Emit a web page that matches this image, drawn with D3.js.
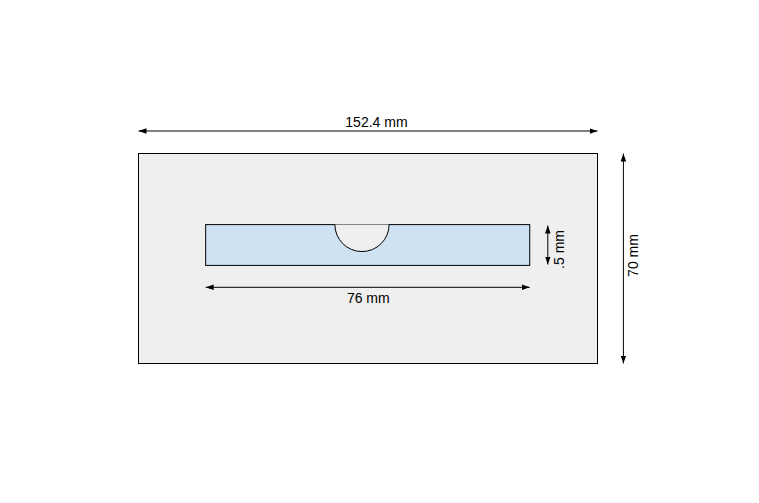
<!DOCTYPE html>
<html lang="en">
<head>
    <meta charset="UTF-8">
    <title>Slot drawing</title>
    <style>
        body { margin: 0; background: #fff; }
        svg { display: block; }
        .dim-line { stroke: #000; stroke-width: 1px; fill: none; }
        .dim-text { font: 14px "Liberation Sans", Arial, sans-serif; fill: #000; }
    </style>
</head>
<body>
    <svg id="chart" width="759" height="503"></svg>
    <script src="https://d3js.org/d3.v7.min.js"></script>
    <script>
        // Plate and cut-out, in mm (drawing is schematic, not to scale)
        const plate = {x0: 0, y0: 0, x1: 152.4, y1: 70};
        const slot = {x0: 22.3, y0: 23.7, x1: 129.9, y1: 37.3};
        const notch = {cx: 74.2, cy: 23.7, r: 9};

        // Dimension arrows: [from, to] along one axis, at fixed position on the other
        const dimensions = [
            {label: "152.4 mm", dir: "h", a: 0, b: 152.4, at: -7.5, lx: 79, ly: -10.6, rot: 0},
            {label: "76 mm", dir: "h", a: 22.3, b: 129.9, at: 44.6, lx: 76.3, ly: 48.2, rot: 0},
            {label: ".5 mm", dir: "v", a: 24.0, b: 37.0, at: 135.9, lx: 139.6, ly: 32, rot: -90},
            {label: "70 mm", dir: "v", a: 0, b: 70, at: 161.0, lx: 164.1, ly: 34, rot: -90}
        ];

        const svg = d3.select("#chart");
        const x = d3.scaleLinear().domain([0, 152.4]).range([138.5, 597.5]);
        const y = d3.scaleLinear().domain([0, 70]).range([153.5, 363.5]);

        svg.append("defs").append("marker")
            .attr("id", "arrow")
            .attr("viewBox", "0 -5 10 10")
            .attr("refX", 10)
            .attr("refY", 0)
            .attr("markerWidth", 8)
            .attr("markerHeight", 8)
            .attr("markerUnits", "userSpaceOnUse")
            .attr("orient", "auto-start-reverse")
            .append("path")
            .attr("d", "M0,-3.5L10,0L0,3.5Z")
            .style("fill", "#000");

        // plate
        svg.append("rect")
            .attr("x", x(plate.x0))
            .attr("y", y(plate.y0))
            .attr("width", x(plate.x1) - x(plate.x0))
            .attr("height", y(plate.y1) - y(plate.y0))
            .style("fill", "#efefef")
            .style("stroke", "#000")
            .style("stroke-width", 1);

        // slot
        svg.append("rect")
            .attr("x", x(slot.x0))
            .attr("y", y(slot.y0))
            .attr("width", x(slot.x1) - x(slot.x0))
            .attr("height", y(slot.y1) - y(slot.y0))
            .style("fill", "#cfe2f3")
            .style("stroke", "#000")
            .style("stroke-width", 1);

        // half-round notch cut into the slot's top edge
        const rx = x(notch.cx + notch.r) - x(notch.cx);
        const ry = y(notch.cy + notch.r) - y(notch.cy);
        svg.append("path")
            .attr("d", `M${x(notch.cx - notch.r)},${y(notch.cy)}A${rx},${ry} 0 0,0 ${x(notch.cx + notch.r)},${y(notch.cy)}`)
            .style("fill", "#efefef")
            .style("stroke", "#000")
            .style("stroke-width", 1);

        // dimension lines
        const dims = svg.selectAll("g.dim")
            .data(dimensions)
            .enter()
            .append("g")
            .attr("class", "dim");

        dims.append("line")
            .attr("class", "dim-line")
            .attr("x1", d => d.dir === "h" ? x(d.a) : x(d.at))
            .attr("x2", d => d.dir === "h" ? x(d.b) : x(d.at))
            .attr("y1", d => d.dir === "h" ? y(d.at) : y(d.a))
            .attr("y2", d => d.dir === "h" ? y(d.at) : y(d.b))
            .attr("marker-start", "url(#arrow)")
            .attr("marker-end", "url(#arrow)");

        dims.append("text")
            .attr("class", "dim-text")
            .attr("text-anchor", "middle")
            .attr("dominant-baseline", "central")
            .attr("transform", d => `translate(${x(d.lx)},${y(d.ly)}) rotate(${d.rot})`)
            .text(d => d.label);
    </script>
</body>
</html>
